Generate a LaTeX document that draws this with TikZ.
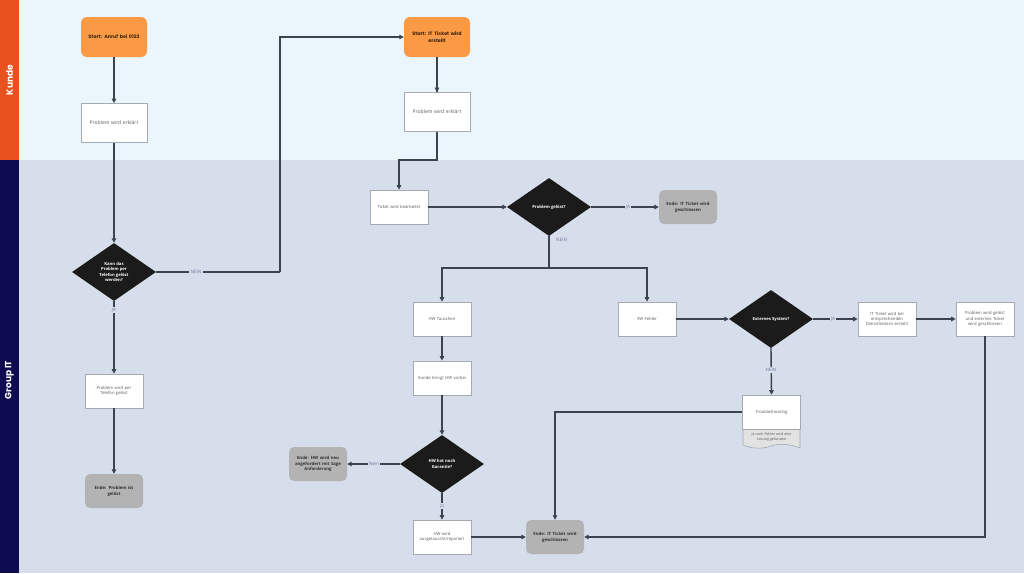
\documentclass[tikz,border=0pt]{standalone}
\usepackage{fontspec}
\setmainfont{Open Sans}
\newfontfamily\popfont{Poppins}
\usetikzlibrary{shapes.geometric,arrows.meta}
\definecolor{kbg}{HTML}{EBF5FC}
\definecolor{itbg}{HTML}{D6DEEC}
\definecolor{kbar}{HTML}{E8521E}
\definecolor{itbar}{HTML}{0E0B50}
\definecolor{startor}{HTML}{FA9A45}
\definecolor{starttxt}{HTML}{3A2410}
\definecolor{endgray}{HTML}{B3B3B3}
\definecolor{endtxt}{HTML}{303030}
\definecolor{diafill}{HTML}{1B1B1B}
\definecolor{conncol}{HTML}{3B4250}
\definecolor{boxborder}{HTML}{A5A9B0}
\definecolor{boxtxt}{HTML}{5A5A5A}
\definecolor{lblcol}{HTML}{6A7490}
\definecolor{notefill}{HTML}{E2E2E2}
\begin{document}
\begin{tikzpicture}[x=1pt,y=-1pt,
  box/.style={draw=boxborder, line width=0.7pt, fill=white, minimum width=58pt, minimum height=34pt, text width=52pt, align=center, inner sep=1pt, font=\fontsize{4.2}{5.4}\selectfont, text=boxtxt},
  bigbox/.style={box, minimum width=66pt, minimum height=39pt, text width=60pt, font=\fontsize{5}{6.2}\selectfont},
  startbox/.style={fill=startor, rounded corners=6pt, minimum width=66pt, minimum height=40pt, text width=60pt, align=center, inner sep=1pt, font=\popfont\bfseries\fontsize{4.8}{6.4}\selectfont, text=starttxt},
  endbox/.style={fill=endgray, rounded corners=5pt, minimum width=58pt, minimum height=34pt, text width=54pt, align=center, inner sep=1pt, font=\bfseries\fontsize{4.3}{5.8}\selectfont, text=endtxt},
  dia/.style={diamond, fill=diafill, minimum width=84pt, minimum height=58pt, inner sep=0pt, align=center, text=white, font=\bfseries\fontsize{4.2}{5.6}\selectfont},
  conn/.style={draw=conncol, line width=1.4pt, -{Triangle[length=4.5pt,width=4.5pt]}},
  wire/.style={draw=conncol, line width=1.4pt},
  lbl/.style={fill=itbg, text=lblcol, inner sep=1.2pt, font=\fontsize{4.6}{5.5}\selectfont},
  lanetitle/.style={rotate=90, text=white, font=\popfont\bfseries\fontsize{9}{10}\selectfont}
]
\useasboundingbox (0,0) rectangle (1024,573);
% lanes
\fill[kbg] (0,0) rectangle (1024,160);
\fill[itbg] (0,160) rectangle (1024,573);
\fill[kbar] (0,0) rectangle (19,160);
\fill[itbar] (0,160) rectangle (19,573);
\node[lanetitle] (lk) at (9.5,80) {Kunde};
\node[lanetitle] (lit) at (9.5,380) {Group IT};

% nodes
\node[startbox] (s1) at (114,37) {Start: Anruf bei 0123};
\node[bigbox] (p1) at (114,123) {Problem wird erklärt};
\node[dia] (d1) at (114,272) {Kann das\\Problem per\\Telefon gelöst\\werden?};
\node[box] (p2) at (114,391) {Problem wird per Telefon gelöst};
\node[endbox] (e1) at (114,491) {Ende: Problem ist\\gelöst};

\node[startbox] (s2) at (437,37) {Start: IT Ticket wird\\erstellt};
\node[bigbox] (p3) at (437,112) {Problem wird erklärt};
\node[box] (tk) at (399,207) {Ticket wird bearbeitet};
\node[dia] (d2) at (549,207) {Problem gelöst?};
\node[endbox] (e2) at (688,207) {Ende: IT Ticket wird\\geschlossen};

\node[box] (hw) at (442,319) {HW Tauschen};
\node[box] (sw) at (647,319) {SW Fehler};
\node[box] (kb) at (442,378) {Kunde bringt HW vorbei};
\node[dia] (d3) at (442,464) {HW hat noch\\Garantie?};
\node[endbox] (e3) at (318,464) {Ende: HW wird neu\\angefordert mit Sage\\Anforderung};
\node[box] (hr) at (442,537) {HW wird\\ausgetauscht/repariert};
\node[endbox] (e4) at (555,537) {Ende: IT Ticket wird\\geschlossen};

\node[dia] (d4) at (771,319) {Externes System?};
\node[box] (ix) at (887,319) {IT Ticket wird bei\\entsprechenden\\Dienstleistern erstellt};
\node[box] (sx) at (985,319) {Problem wird gelöst\\und externes Ticket\\wird geschlossen};

% troubleshooting document
\filldraw[fill=notefill, draw=boxborder, line width=0.6pt] (743,428) -- (800,428) -- (800,448) .. controls (790,444) and (780,443) .. (771,446) .. controls (763,449) and (752,449) .. (743,445) -- cycle;
\node[box, minimum height=34pt] (tr) at (771.5,412) {Troubleshooting};
\node[text=boxtxt, align=center, inner sep=0pt, font=\fontsize{3.6}{4.6}\selectfont] (trn) at (771.5,437) {Je nach Fehler wird eine\\Lösung gefunden};

% coordinates
\coordinate (c1) at (280,272);
\coordinate (c2) at (399,160);
\coordinate (c3) at (549,268);

% connectors
\draw[conn] (s1.south) -- (p1.north);
\draw[conn] (p1.south) -- (d1.north);
\draw[wire] (d1.east) -- (c1);
\draw[conn] (c1) |- (s2.west);
\node[lbl] (l1) at (196,272) {NEIN};
\draw[conn] (d1.south) -- (p2.north);
\node[lbl] (l2) at (114,310) {JA};
\draw[conn] (p2.south) -- (e1.north);

\draw[wire] (s2.south) -- (p3.north);
\draw[conn] (s2.south) -- (p3.north);
\draw[conn] (p3.south) |- (c2) -- (tk.north);
\draw[conn] (tk.east) -- (d2.west);
\draw[conn] (d2.east) -- (e2.west);
\node[lbl] (l3) at (628,207) {JA};
\draw[wire] (d2.south) -- (c3);
\node[text=lblcol, inner sep=0pt, anchor=west, font=\fontsize{4.6}{5.5}\selectfont] (l4) at (556,240) {NEIN};
\draw[conn] (c3) -| (hw.north);
\draw[conn] (c3) -| (sw.north);

\draw[conn] (hw.south) -- (kb.north);
\draw[conn] (kb.south) -- (d3.north);
\draw[conn] (d3.west) -- (e3.east);
\node[lbl] (l5) at (374,464) {Nein};
\draw[conn] (d3.south) -- (hr.north);
\node[lbl] (l6) at (442,506) {Ja};
\draw[conn] (hr.east) -- (e4.west);

\draw[conn] (sw.east) -- (d4.west);
\draw[conn] (d4.east) -- (ix.west);
\node[lbl] (l7) at (833,319) {JA};
\draw[conn] (ix.east) -- (sx.west);
\draw[conn] (d4.south) -- (tr.north);
\node[lbl] (l8) at (771,370) {NEIN};
\draw[conn] (tr.west) -| (e4.north);
\draw[conn] (sx.south) |- (e4.east);
\end{tikzpicture}
\end{document}
